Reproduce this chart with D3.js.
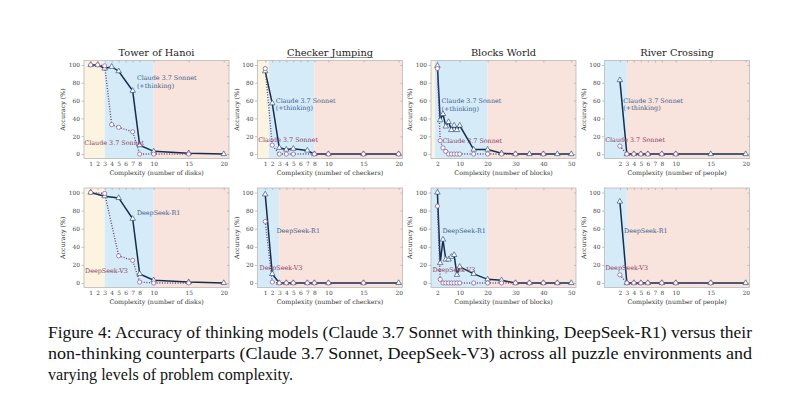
<!doctype html>
<html>
<head>
<meta charset="utf-8">
<title>Thinking vs non-thinking accuracy</title>
<script src="https://d3js.org/d3.v7.min.js"></script>
<style>
  html, body { margin: 0; background: #fff; }
  svg { display: block; }
  text { font-family: "DejaVu Serif", serif; }
  .caption { font-family: "Liberation Serif", serif; font-size: 16px; fill: #111; }
</style>
</head>
<body>
<svg id="fig" width="800" height="399"></svg>
<script>
// ---- data (x = complexity, y = accuracy %) ----
var hanoiTicks = [1, 2, 3, 4, 5, 6, 7, 8, 10, 15, 20];
var hanoiSonnetThinking = [[1,100],[2,100],[3,96],[4,98],[5,93],[7,71],[8,10],[10,3],[15,1],[20,0]];
var hanoiSonnet = [[1,100],[2,100],[3,99],[4,33],[5,30],[7,25],[8,0],[10,0],[15,0]];
var hanoiR1 = [[1,100],[3,96],[5,94],[7,71],[8,10],[10,3],[15,1],[20,0]];
var hanoiV3 = [[1,100],[3,99],[5,30],[7,25],[8,1],[10,0],[15,0]];

var checkerTicks = [1, 2, 3, 4, 5, 6, 7, 8, 10, 15, 20];
var checkerSonnetThinking = [[1,93],[2,57],[3,7],[4,5],[5,6],[7,4],[8,0],[10,0],[15,0],[20,0]];
var checkerSonnet = [[1,96],[2,10],[3,0],[4,0],[5,0],[8,0],[10,0],[15,0],[20,0]];
var checkerR1 = [[1,98],[2,10],[3,0],[4,0],[5,0],[7,0],[8,0],[10,0],[15,0],[20,0]];
var checkerV3 = [[1,68],[2,1],[3,0],[4,0],[5,0],[7,0],[8,0],[10,0],[15,0]];

var blocksTicks = [2, 10, 20, 30, 40, 50];
var blocksSonnetThinking = [[2,99],[3,38],[4,45],[5,31],[6,36],[7,27],[8,32],[9,27],[10,32],[15,5],[20,5],[25,1],[30,0],[35,0],[40,0],[45,0],[50,0]];
var blocksSonnet = [[2,96],[3,15],[4,7],[5,3],[6,0],[7,0],[8,0],[9,0],[10,0],[15,0],[20,0],[25,0],[30,0],[40,0]];
var blocksR1 = [[2,100],[3,22],[4,48],[5,26],[6,26],[7,29],[8,31],[9,9],[10,18],[15,10],[20,4],[25,3],[30,0],[35,0],[40,0],[45,0],[50,0]];
var blocksV3 = [[2,85],[3,4],[4,0],[5,0],[6,0],[7,0],[8,0],[9,0],[10,0],[15,0],[20,0],[25,0],[30,0],[35,0],[40,0],[45,0]];

var riverTicks = [2, 3, 4, 5, 6, 7, 8, 10, 15, 20];
var riverSonnetThinking = [[2,83],[3,0],[4,0],[5,0],[6,0],[8,0],[10,0],[15,0],[20,0]];
var riverSonnet = [[2,9],[3,0],[4,0],[5,0],[6,0],[8,0],[10,0]];
var riverR1 = [[2,90],[3,0],[4,0],[5,0],[6,0],[8,0],[10,0],[15,0],[20,0]];
var riverV3 = [[2,9],[3,0],[4,0],[5,0],[6,0],[8,0],[10,0],[15,0]];

// regime boundaries: easy|medium, medium|hard
var hanoiZones = [3, 10];
var checkerSonnetZones = [1.5, 8];
var checkerDeepSeekZones = [-99, 3];
var blocksSonnetZones = [1, 20];
var blocksDeepSeekZones = [-99, 20];
var riverZones = [-99, 3];

var yTicks = [0, 20, 40, 60, 80, 100];
var caption = [
  "Figure 4: Accuracy of thinking models (Claude 3.7 Sonnet with thinking, DeepSeek-R1) versus their",
  "non-thinking counterparts (Claude 3.7 Sonnet, DeepSeek-V3) across all puzzle environments and",
  "varying levels of problem complexity."
];

// ---- layout ----
var lefts = [84, 257.5, 431, 604.5];
var panelW = 145;
var tops = [60.5, 188];
var heights = [98, 99.5];
var xDomains = [[0.05, 20.75], [-0.1, 20.55], [-0.3, 51.7], [-0.2, 20.55]];
var zoneColors = ['#fcf4e0', '#d6ebf8', '#f9e3dd'];
var thinkLine = '#142e4e', thinkMark = '#35557f', thinkText = '#3e5f8b';
var plainLine = '#6a4580', plainMark = '#835590', plainText = '#8d3e64';

var panels = [
  {row:0, col:0, title:'Tower of Hanoi', xlabel:'Complexity (number of disks)', ticks:hanoiTicks, zones:hanoiZones,
   think:hanoiSonnetThinking, plain:hanoiSonnet, thinkName:['Claude 3.7 Sonnet','(+thinking)'], plainName:'Claude 3.7 Sonnet',
   thinkAt:[7.6, 85], plainAt:[0.1, 12]},
  {row:0, col:1, title:'Checker Jumping', xlabel:'Complexity (number of checkers)', ticks:checkerTicks, zones:checkerSonnetZones,
   think:checkerSonnetThinking, plain:checkerSonnet, thinkName:['Claude 3.7 Sonnet','(+thinking)'], plainName:'Claude 3.7 Sonnet',
   thinkAt:[2.5, 60], plainAt:[0.0, 16], underline:true},
  {row:0, col:2, title:'Blocks World', xlabel:'Complexity (number of blocks)', ticks:blocksTicks, zones:blocksSonnetZones,
   think:blocksSonnetThinking, plain:blocksSonnet, thinkName:['Claude 3.7 Sonnet','(+thinking)'], plainName:'Claude 3.7 Sonnet',
   thinkAt:[3.5, 59], plainAt:[3.8, 15]},
  {row:0, col:3, title:'River Crossing', xlabel:'Complexity (number of people)', ticks:riverTicks, zones:riverZones,
   think:riverSonnetThinking, plain:riverSonnet, thinkName:['Claude 3.7 Sonnet','(+thinking)'], plainName:'Claude 3.7 Sonnet',
   thinkAt:[2.5, 60], plainAt:[-0.1, 16]},
  {row:1, col:0, xlabel:'Complexity (number of disks)', ticks:hanoiTicks, zones:hanoiZones,
   think:hanoiR1, plain:hanoiV3, thinkName:['DeepSeek-R1'], plainName:'DeepSeek-V3',
   thinkAt:[7.6, 77], plainAt:[0.2, 13]},
  {row:1, col:1, xlabel:'Complexity (number of checkers)', ticks:checkerTicks, zones:checkerDeepSeekZones,
   think:checkerR1, plain:checkerV3, thinkName:['DeepSeek-R1'], plainName:'DeepSeek-V3',
   thinkAt:[2.6, 57], plainAt:[0.2, 17]},
  {row:1, col:2, xlabel:'Complexity (number of blocks)', ticks:blocksTicks, zones:blocksDeepSeekZones,
   think:blocksR1, plain:blocksV3, thinkName:['DeepSeek-R1'], plainName:'DeepSeek-V3',
   thinkAt:[3.8, 57], plainAt:[0.2, 14]},
  {row:1, col:3, xlabel:'Complexity (number of people)', ticks:riverTicks, zones:riverZones,
   think:riverR1, plain:riverV3, thinkName:['DeepSeek-R1'], plainName:'DeepSeek-V3',
   thinkAt:[2.6, 57], plainAt:[-0.1, 17]}
];

var svg = d3.select('#fig');
svg.append('rect').attr('width', 800).attr('height', 399).attr('fill', '#fff');

panels.forEach(function(p) {
  var dom = xDomains[p.col];
  var x0 = lefts[p.col], y0 = tops[p.row], h = heights[p.row];
  var x = d3.scaleLinear().domain(dom).range([x0, x0 + panelW]);
  var y = d3.scaleLinear().domain([-5, 105]).range([y0 + h, y0]);
  var g = svg.append('g');

  // regime bands
  var b = [dom[0], Math.max(dom[0], p.zones[0]), p.zones[1], dom[1]];
  for (var i = 0; i < 3; i++) {
    if (b[i + 1] <= b[i]) continue;
    g.append('rect').attr('x', x(b[i])).attr('y', y0)
      .attr('width', x(b[i + 1]) - x(b[i])).attr('height', h)
      .attr('fill', zoneColors[i]);
  }

  // axes
  var left = d3.axisLeft(y).tickValues(yTicks).tickSize(2.5).tickPadding(1.5);
  var bottom = d3.axisBottom(x).tickValues(p.ticks).tickSize(0).tickPadding(3.5);
  var top = d3.axisTop(x).tickValues(p.ticks).tickSize(-2).tickFormat('');
  var right = d3.axisRight(y).tickValues(yTicks).tickSize(-2).tickFormat('');
  [[left, 'translate(' + x0 + ',0)'], [bottom, 'translate(0,' + (y0 + h) + ')'],
   [top, 'translate(0,' + y0 + ')'], [right, 'translate(' + (x0 + panelW) + ',0)']].forEach(function(a) {
    var ax = g.append('g').attr('transform', a[1]).call(a[0]);
    ax.select('.domain').remove();
    ax.selectAll('line').attr('stroke', '#999').attr('stroke-width', 0.6);
    ax.selectAll('text').attr('font-family', '"DejaVu Serif", serif').attr('font-size', 5.9).attr('fill', '#444');
  });
  g.append('rect').attr('x', x0).attr('y', y0).attr('width', panelW).attr('height', h)
    .attr('fill', 'none').attr('stroke', '#b8b8b8').attr('stroke-width', 0.8);

  // axis labels
  g.append('text').attr('x', x0 + panelW / 2).attr('y', y0 + h + 16)
    .attr('text-anchor', 'middle').attr('font-size', 6.3).attr('fill', '#333').text(p.xlabel);
  g.append('text').attr('transform', 'translate(' + (x0 - 19) + ',' + (y0 + h / 2) + ') rotate(-90)')
    .attr('text-anchor', 'middle').attr('font-size', 6.3).attr('fill', '#333').text('Accuracy (%)');

  if (p.title) {
    var t = g.append('text').attr('x', x0 + panelW / 2).attr('y', y0 - 5)
      .attr('text-anchor', 'middle').attr('font-size', 9.8).attr('fill', '#222').text(p.title);
    if (p.underline) {
      var tw = t.node().getComputedTextLength();
      g.append('line').attr('x1', x0 + panelW / 2 - tw / 2).attr('x2', x0 + panelW / 2 + tw / 2)
        .attr('y1', y0 - 3).attr('y2', y0 - 3).attr('stroke', '#555').attr('stroke-width', 0.6);
    }
  }

  // series
  var line = d3.line().x(function(d) { return x(d[0]); }).y(function(d) { return y(d[1]); });
  g.append('path').datum(p.think).attr('d', line).attr('fill', 'none')
    .attr('stroke', thinkLine).attr('stroke-width', 1.5);
  g.append('path').datum(p.plain).attr('d', line).attr('fill', 'none')
    .attr('stroke', plainLine).attr('stroke-width', 1.4).attr('stroke-dasharray', '1,1.6');

  var tri = d3.symbol().type(d3.symbolTriangle).size(13);
  g.selectAll('.tri').data(p.think).enter().append('path')
    .attr('d', tri)
    .attr('transform', function(d) { return 'translate(' + x(d[0]) + ',' + y(d[1]) + ')'; })
    .attr('fill', '#fff').attr('stroke', thinkMark).attr('stroke-width', 0.7);
  g.selectAll('.dot').data(p.plain).enter().append('circle')
    .attr('cx', function(d) { return x(d[0]); }).attr('cy', function(d) { return y(d[1]); })
    .attr('r', 2.1).attr('fill', '#fff').attr('stroke', plainMark).attr('stroke-width', 0.7);

  // series names
  var tn = g.append('text').attr('x', x(p.thinkAt[0])).attr('y', y(p.thinkAt[1]) + 2)
    .attr('font-size', 6.4).attr('fill', thinkText);
  p.thinkName.forEach(function(s, k) {
    tn.append('tspan').attr('x', x(p.thinkAt[0])).attr('dy', k ? 7.6 : 0).text(s);
  });
  g.append('text').attr('x', x(p.plainAt[0])).attr('y', y(p.plainAt[1]) + 2)
    .attr('font-size', 6.4).attr('fill', plainText).text(p.plainName);
});

// caption
svg.selectAll('.caption').data(caption).enter().append('text')
  .attr('class', 'caption')
  .attr('x', 48)
  .attr('y', function(d, i) { return 338 + i * 21; })
  .attr('textLength', function(d, i) { return i < 2 ? 704 : 245; })
  .attr('lengthAdjust', 'spacingAndGlyphs')
  .text(function(d) { return d; });
</script>
</body>
</html>
